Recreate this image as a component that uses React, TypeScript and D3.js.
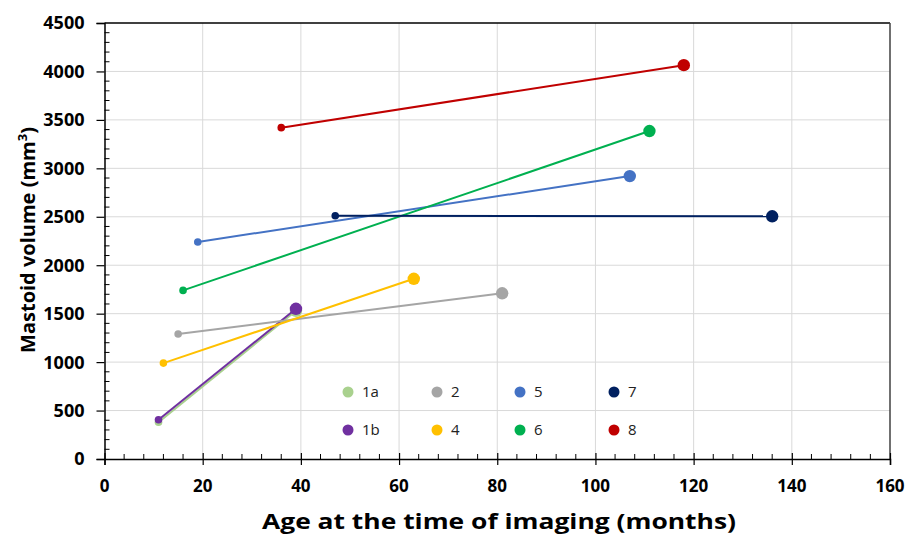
import React, { useEffect, useRef } from 'react';
import * as d3 from 'd3';

// patients, ages (months) and mastoid volumes (mm3) at first and second scan
const patients = ['1a', '1b', '2', '4', '5', '6', '7', '8'];
const ageStart = [11, 11, 15, 12, 19, 16, 47, 36];
const ageEnd = [39, 39, 81, 63, 107, 111, 136, 118];
const volStart = [380, 405, 1290, 990, 2240, 1740, 2510, 3420];
const volEnd = [1530, 1550, 1710, 1860, 2920, 3385, 2505, 4065];
const colors = ['#A9D18E', '#7030A0', '#A5A5A5', '#FFC000', '#4472C4', '#00B050', '#002060', '#C00000'];

const legendRows = [
  ['1a', '2', '5', '7'],
  ['1b', '4', '6', '8'],
];
const xTicks = [0, 20, 40, 60, 80, 100, 120, 140, 160];
const yTicks = [0, 500, 1000, 1500, 2000, 2500, 3000, 3500, 4000, 4500];

function MastoidChart() {
  const svgRef = useRef<SVGSVGElement>(null);

  useEffect(() => {
    const svg = d3.select(svgRef.current);
    const width = 907;
    const height = 535;
    const margin = { top: 23, right: 17, bottom: 76, left: 104.5 };
    const font = '"Open Sans", sans-serif';

    svg.selectAll('*').remove();

    const x = d3.scaleLinear().domain([0, 160]).range([margin.left, width - margin.right]);
    const y = d3.scaleLinear().domain([0, 4500]).range([height - margin.bottom, margin.top]);
    const x0 = x(0), x1 = x(160), y0 = y(0), y1 = y(4500);

    // gridlines
    svg.append('g')
      .selectAll('line')
      .data(xTicks.slice(1, -1))
      .join('line')
      .attr('x1', d => x(d)).attr('x2', d => x(d))
      .attr('y1', y0).attr('y2', y1)
      .attr('stroke', '#D9D9D9').attr('stroke-width', 1);
    svg.append('g')
      .selectAll('line')
      .data(yTicks.slice(1, -1))
      .join('line')
      .attr('x1', x0).attr('x2', x1)
      .attr('y1', d => y(d)).attr('y2', d => y(d))
      .attr('stroke', '#D9D9D9').attr('stroke-width', 1);

    // frame top / right
    svg.append('line').attr('x1', x0).attr('x2', x1).attr('y1', y1).attr('y2', y1)
      .attr('stroke', '#000').attr('stroke-width', 1.5);
    svg.append('line').attr('x1', x1).attr('x2', x1).attr('y1', y1).attr('y2', y0)
      .attr('stroke', '#404040').attr('stroke-width', 1.5);

    // axes
    const yAxis = svg.append('g').attr('transform', `translate(${x0},0)`);
    yAxis.call(d3.axisLeft(y).tickValues(yTicks).tickSize(8).tickFormat(() => ''));
    yAxis.call(g => g.select('.domain').attr('stroke', '#000').attr('stroke-width', 1.5));
    yAxis.selectAll('.tick line').attr('stroke', '#000').attr('stroke-width', 1.2);
    const yMinor = d3.range(0, 4501, 100).filter(v => v % 500 !== 0);
    yAxis.append('g').selectAll('line').data(yMinor).join('line')
      .attr('x1', 0).attr('x2', 5)
      .attr('y1', d => y(d)).attr('y2', d => y(d))
      .attr('stroke', '#000').attr('stroke-width', 1);

    const xAxis = svg.append('g').attr('transform', `translate(0,${y0})`);
    xAxis.call(d3.axisBottom(x).tickValues(xTicks).tickSize(6).tickFormat(() => ''));
    xAxis.call(g => g.select('.domain').attr('stroke', '#000').attr('stroke-width', 1.5));
    xAxis.selectAll('.tick line').attr('y1', -6).attr('stroke', '#000').attr('stroke-width', 1.2);
    const xMinor = d3.range(0, 161, 4).filter(v => v % 20 !== 0);
    xAxis.append('g').selectAll('line').data(xMinor).join('line')
      .attr('x1', d => x(d)).attr('x2', d => x(d))
      .attr('y1', 0).attr('y2', -5)
      .attr('stroke', '#000').attr('stroke-width', 1);

    // tick labels
    svg.append('g').selectAll('text').data(yTicks).join('text')
      .attr('x', x0 - 20).attr('y', d => y(d)).attr('dy', '0.36em')
      .attr('text-anchor', 'end')
      .attr('font-family', font).attr('font-weight', 700).attr('font-size', 18)
      .attr('fill', '#000')
      .text(d => d);
    svg.append('g').selectAll('text').data(xTicks).join('text')
      .attr('x', d => x(d)).attr('y', y0 + 33)
      .attr('text-anchor', 'middle')
      .attr('font-family', font).attr('font-weight', 700).attr('font-size', 17)
      .attr('fill', '#000')
      .text(d => d);

    // axis titles
    svg.append('text')
      .attr('transform', `translate(${35},${240}) rotate(-90)`)
      .attr('text-anchor', 'middle')
      .attr('font-family', font).attr('font-weight', 700).attr('font-size', 20)
      .attr('fill', '#000')
      .html('Mastoid volume (mm<tspan font-size="13" dy="-8">3</tspan><tspan dy="8">)</tspan>');
    svg.append('text')
      .attr('x', 262).attr('y', 529)
      .attr('textLength', 474).attr('lengthAdjust', 'spacingAndGlyphs')
      .attr('font-family', font)
      .attr('font-weight', 700).attr('font-size', 22)
      .attr('fill', '#000')
      .text('Age at the time of imaging (months)');

    // series
    const series = patients.map((p, i) => ({
      name: p,
      color: colors[i],
      pts: [[ageStart[i], volStart[i]], [ageEnd[i], volEnd[i]]] as [number, number][],
    }));
    const line = d3.line<[number, number]>().x(d => x(d[0])).y(d => y(d[1]));

    series.forEach(s => {
      const g = svg.append('g');
      g.append('path').attr('d', line(s.pts))
        .attr('fill', 'none').attr('stroke', s.color).attr('stroke-width', 2);
      g.append('circle').attr('cx', x(s.pts[0][0])).attr('cy', y(s.pts[0][1]))
        .attr('r', 3.8).attr('fill', s.color);
      g.append('circle').attr('cx', x(s.pts[1][0])).attr('cy', y(s.pts[1][1]))
        .attr('r', 6.2).attr('fill', s.color);
    });

    // legend
    const legendX = [348, 437, 520, 614];
    const legendY = [392, 430];
    legendRows.forEach((row, r) => {
      row.forEach((name, c) => {
        const i = patients.indexOf(name);
        svg.append('circle').attr('cx', legendX[c]).attr('cy', legendY[r])
          .attr('r', 5.5).attr('fill', colors[i]);
        svg.append('text').attr('x', legendX[c] + 14).attr('y', legendY[r]).attr('dy', '0.36em')
          .attr('font-family', font).attr('font-size', 15).attr('fill', '#222')
          .text(name);
      });
    });
  }, []);

  return <svg ref={svgRef} width="907" height="535" style={{ position: 'absolute', left: 0, top: 0, background: '#fff' }}></svg>;
}

export default function App() {
  return <MastoidChart />;
}
